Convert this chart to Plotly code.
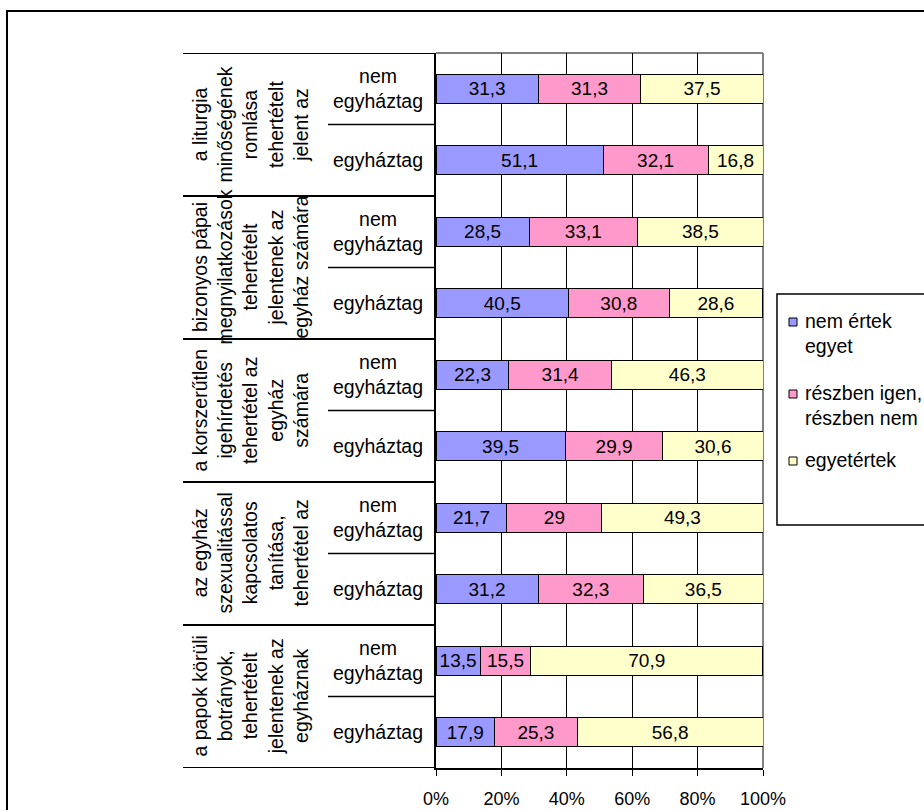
import plotly.graph_objects as go

# ---- data ----
groups = [
    "a liturgia<br>minőségének<br>romlása<br>tehertételt<br>jelent az",
    "bizonyos pápai<br>megnyilatkozások<br>tehertételt<br>jelentenek az<br>egyház számára",
    "a korszerűtlen<br>igehírdetés<br>tehertétel az<br>egyház<br>számára",
    "az egyház<br>szexualitással<br>kapcsolatos<br>tanítása,<br>tehertétel az",
    "a papok körüli<br>botrányok,<br>tehertételt<br>jelentenek az<br>egyháznak",
]
subgroups = ["nem<br>egyháztag", "egyháztag"]
series_names = ["nem értek<br>egyet", "részben igen,<br>részben nem", "egyetértek"]
series_colors = ["#9999FF", "#FF99CC", "#FFFFCC"]

# rows top to bottom: (group1 nem, group1 egyh, group2 nem, ...)
nem_ertek_egyet = [31.3, 51.1, 28.5, 40.5, 22.3, 39.5, 21.7, 31.2, 13.5, 17.9]
reszben = [31.3, 32.1, 33.1, 30.8, 31.4, 29.9, 29.0, 32.3, 15.5, 25.3]
egyetertek = [37.5, 16.8, 38.5, 28.6, 46.3, 30.6, 49.3, 36.5, 70.9, 56.8]
series_values = [nem_ertek_egyet, reszben, egyetertek]

tick_vals = [0, 20, 40, 60, 80, 100]
tick_text = ["0%", "20%", "40%", "60%", "80%", "100%"]

FONT = "Liberation Sans, Arial, sans-serif"
FS_LABEL = 19.5
FS_BAR = 19
FS_TICK = 18

n_rows = len(nem_ertek_egyet)
rows = list(range(n_rows))


def fmt(v):
    s = ("%.1f" % v).rstrip("0").rstrip(".")
    return s.replace(".", ",")


fig = go.Figure()
for name, vals, col in zip(series_names, series_values, series_colors):
    fig.add_trace(go.Bar(
        y=rows, x=vals, orientation="h", name=name,
        marker=dict(color=col, line=dict(color="black", width=1)),
        text=[fmt(v) for v in vals], textposition="inside",
        insidetextanchor="middle",
        textfont=dict(family=FONT, size=FS_BAR, color="black"),
        showlegend=False,
    ))

# plot geometry in px
L, R, T, B = 436, 161, 53, 42
W, H = 924, 810
pw = W - L - R
ph = H - T - B


def px_x(px):
    return (px - L) / pw


def px_y(py):
    return (H - B - py) / ph


shapes = []
# outer frame (extends beyond the image on right/bottom)
shapes.append(dict(type="rect", xref="paper", yref="paper",
                   x0=px_x(7), x1=px_x(940), y0=px_y(830), y1=px_y(11),
                   line=dict(color="black", width=2), layer="above"))
# table lines: group boundaries
xl_group = px_x(183)
xl_sub = px_x(328)
for k in range(len(groups) + 1):
    yb = 2 * k - 0.5
    shapes.append(dict(type="line", xref="paper", yref="y",
                       x0=xl_group, x1=0, y0=yb, y1=yb,
                       line=dict(color="black", width=2)))
for k in range(len(groups)):
    yb = 2 * k + 0.5
    shapes.append(dict(type="line", xref="paper", yref="y",
                       x0=xl_sub, x1=0, y0=yb, y1=yb,
                       line=dict(color="black", width=1.5)))
# gray top and right border of plot area
shapes.append(dict(type="line", xref="paper", yref="paper", x0=0, x1=1, y0=1, y1=1,
                   line=dict(color="#808080", width=2), layer="between"))
shapes.append(dict(type="line", xref="paper", yref="paper", x0=1, x1=1, y0=0, y1=1,
                   line=dict(color="#808080", width=2), layer="between"))

annotations = []
for g, label in enumerate(groups):
    annotations.append(dict(
        xref="paper", yref="y", x=px_x(250), y=2 * g + 0.5, text=label,
        textangle=-90, showarrow=False, xanchor="center", yanchor="middle",
        font=dict(family=FONT, size=FS_LABEL, color="black"), align="center"))
    for s, sub in enumerate(subgroups):
        annotations.append(dict(
            xref="paper", yref="y", x=px_x(378), y=2 * g + s, text=sub,
            showarrow=False, xanchor="center", yanchor="middle",
            font=dict(family=FONT, size=FS_LABEL, color="black"), align="center"))

# ---- legend (drawn as layout box) ----
shapes.append(dict(type="rect", xref="paper", yref="paper",
                   x0=px_x(777), x1=px_x(960), y0=px_y(525), y1=px_y(294),
                   line=dict(color="black", width=1.5), fillcolor="white",
                   layer="above"))
legend_first_line = [322, 394, 461]
for name, col, yc in zip(series_names, series_colors, legend_first_line):
    shapes.append(dict(type="rect", xref="paper", yref="paper",
                       x0=px_x(789), x1=px_x(797), y0=px_y(yc + 4), y1=px_y(yc - 4),
                       line=dict(color="black", width=1), fillcolor=col,
                       layer="above"))
    annotations.append(dict(
        xref="paper", yref="paper", x=px_x(803), y=px_y(yc - 14), text=name,
        showarrow=False, xanchor="left", yanchor="top", align="left",
        font=dict(family=FONT, size=FS_LABEL, color="black")))

fig.update_layout(
    barmode="stack", bargap=0.6,
    width=W, height=H,
    margin=dict(l=L, r=R, t=T, b=B, autoexpand=False),
    plot_bgcolor="white", paper_bgcolor="white",
    font=dict(family=FONT, size=FS_TICK, color="black"),
    xaxis=dict(range=[0, 100], tickvals=tick_vals, ticktext=tick_text,
               showgrid=True, gridcolor="black", gridwidth=1,
               zeroline=False, showline=True, linecolor="black", linewidth=1.5,
               ticks="outside", ticklen=6, tickcolor="black",
               ticklabelstandoff=8,
               tickfont=dict(family=FONT, size=FS_TICK, color="black")),
    yaxis=dict(range=[n_rows - 0.5, -0.5], showticklabels=False, showgrid=False,
               zeroline=False, showline=True, linecolor="black", linewidth=1.5,
               ticks=""),
    showlegend=False,
    shapes=shapes, annotations=annotations,
    uniformtext=dict(minsize=FS_BAR, mode="show"),
)

fig.write_html("out.html",
               config={"displayModeBar": False},
               post_script="document.body.style.margin='0px';document.body.style.overflow='hidden';")
